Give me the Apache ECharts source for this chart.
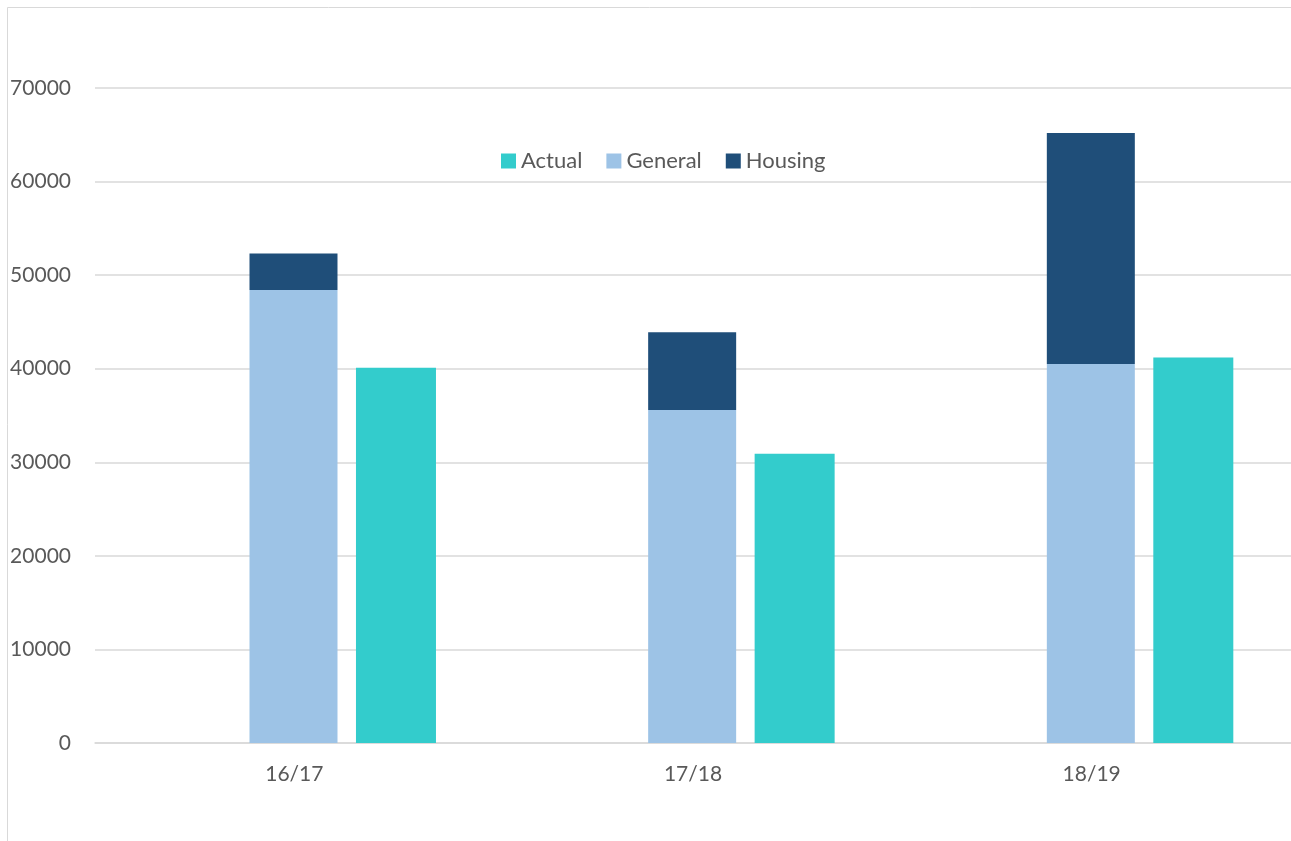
<!DOCTYPE html>
<html>
<head>
<meta charset="utf-8">
<script src="https://cdn.jsdelivr.net/npm/echarts@6/dist/echarts.min.js"></script>
<style>
html,body{margin:0;padding:0;background:#fff;}
#chart{width:1291px;height:841px;}
</style>
</head>
<body>
<div id="chart"></div>
<script>
const categories = ['16/17', '17/18', '18/19'];
const actual = [40100, 30900, 41200];
const general = [48400, 35600, 40500];
const housing = [3900, 8300, 24700];
const yTicks = [0, 10000, 20000, 30000, 40000, 50000, 60000, 70000];

const FONT = 'Lato';
const TXT = '#595959';
const GRID = '#D9D9D9';

const chart = echarts.init(document.getElementById('chart'), null, {renderer: 'canvas'});
const gap = '21%';
chart.setOption({
  animation: false,
  backgroundColor: '#ffffff',
  textStyle: {fontFamily: FONT},
  graphic: [{
    type: 'rect',
    shape: {x: 7.5, y: 7.5, width: 1500, height: 1200},
    style: {fill: 'none', stroke: GRID, lineWidth: 1},
    silent: true
  }],
  legend: {
    data: ['Actual', 'General', 'Housing'],
    left: 496,
    top: 145,
    itemWidth: 15,
    itemHeight: 15,
    itemGap: 24,
    icon: 'rect',
    textStyle: {color: TXT, fontSize: 22, fontFamily: FONT}
  },
  grid: {left: 95, right: 0, top: 88, bottom: 98, containLabel: false},
  xAxis: {
    type: 'category',
    data: categories,
    axisLine: {show: true, lineStyle: {color: GRID, width: 1.5}},
    axisTick: {show: false},
    axisLabel: {color: TXT, fontSize: 21, fontFamily: FONT, margin: 21}
  },
  yAxis: {
    type: 'value',
    min: yTicks[0],
    max: yTicks[yTicks.length - 1],
    interval: 10000,
    axisLine: {show: false},
    axisTick: {show: false},
    splitLine: {lineStyle: {color: GRID, width: 1.5}},
    axisLabel: {color: TXT, fontSize: 21, fontFamily: FONT, margin: 24, formatter: v => String(v)}
  },
  series: [
    {name: '_spacer', type: 'bar', barWidth: 80, barGap: gap, data: categories.map(() => '-'), silent: true},
    {name: 'General', type: 'bar', stack: 'budget', barWidth: 88, barGap: gap, data: general, itemStyle: {color: '#9DC3E6'}},
    {name: 'Housing', type: 'bar', stack: 'budget', barWidth: 88, barGap: gap, data: housing, itemStyle: {color: '#1F4E79'}},
    {name: 'Actual', type: 'bar', barWidth: 80, barGap: gap, data: actual, itemStyle: {color: '#33CCCC'}}
  ]
});
</script>
</body>
</html>
